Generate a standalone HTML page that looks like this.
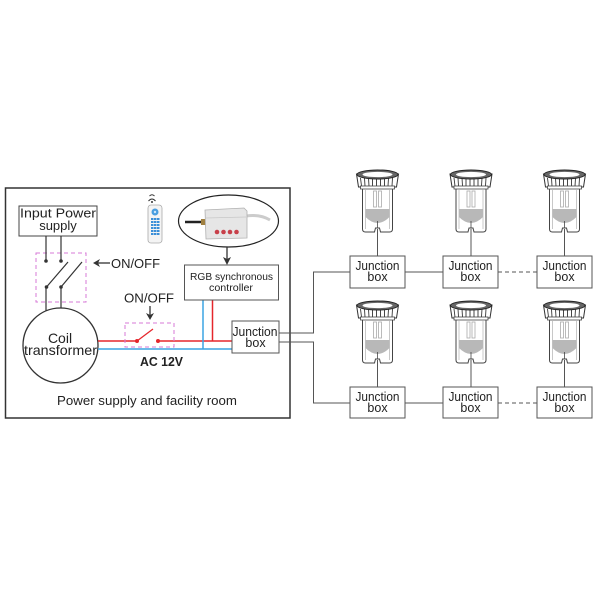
<!DOCTYPE html>
<html><head><meta charset="utf-8"><style>
html,body{margin:0;padding:0;background:#fff;}
svg{display:block;}
text{font-family:"Liberation Sans",sans-serif;fill:#222;}
</style></head><body>
<svg width="600" height="600" viewBox="0 0 600 600" xmlns="http://www.w3.org/2000/svg">
<defs>
  <g id="lamp">
    <path d="M-15,17 L-15,58 Q-15,61 -12,61 L-3,61 L-2,57 L2,57 L3,61 L12,61 Q15,61 15,58 L15,17 Z" fill="#fff" stroke="#444" stroke-width="1"/>
    <line x1="-12" y1="19" x2="-12" y2="58" stroke="#bbb" stroke-width="0.8"/>
    <line x1="12" y1="19" x2="12" y2="58" stroke="#bbb" stroke-width="0.8"/>
    <rect x="-4" y="20" width="3" height="16" fill="none" stroke="#aaa" stroke-width="0.8"/>
    <rect x="1" y="20" width="3" height="16" fill="none" stroke="#aaa" stroke-width="0.8"/>
    <path d="M-12,38 L12,38 L12,46 Q6,52 0,52 Q-6,52 -12,46 Z" fill="#b8b8b8"/>
    <line x1="0" y1="50" x2="0" y2="57" stroke="#444" stroke-width="0.8"/>
    <path d="M-21,3 L21,3 L19,16 L-19,16 Z" fill="#fff" stroke="#333" stroke-width="1"/>
    <g stroke="#333" stroke-width="0.9">
      <line x1="-17" y1="7" x2="-16" y2="15"/><line x1="-13" y1="7" x2="-12.5" y2="15"/>
      <line x1="-9" y1="7" x2="-8.5" y2="15"/><line x1="-5" y1="7" x2="-5" y2="15"/>
      <line x1="-1" y1="7" x2="-1" y2="15"/><line x1="3" y1="7" x2="3" y2="15"/>
      <line x1="7" y1="7" x2="7" y2="15"/><line x1="11" y1="7" x2="10.5" y2="15"/>
      <line x1="15" y1="7" x2="14.5" y2="15"/>
    </g>
    <ellipse cx="0" cy="3.5" rx="20.5" ry="4.5" fill="#666" stroke="#222" stroke-width="1"/>
    <ellipse cx="0" cy="3.5" rx="15" ry="2.6" fill="#fff"/>
    <rect x="-17" y="15" width="34" height="3" fill="#fff" stroke="#444" stroke-width="0.8"/>
  </g>
</defs>

<!-- outer facility box -->
<rect x="5.5" y="188" width="284.5" height="230" fill="none" stroke="#333" stroke-width="1.5"/>

<!-- Input power supply -->
<rect x="19" y="206" width="78" height="30" fill="#fff" stroke="#444" stroke-width="1"/>
<text x="20" y="217.5" font-size="13" textLength="76" lengthAdjust="spacingAndGlyphs">Input Power</text>
<text x="58" y="230" font-size="13" text-anchor="middle">supply</text>

<!-- double switch -->
<rect x="36" y="253" width="50" height="49" fill="none" stroke="#d77ad7" stroke-width="1" stroke-dasharray="4,3"/>
<g stroke="#333" stroke-width="1.2" fill="none">
  <line x1="46" y1="236" x2="46" y2="261"/>
  <line x1="61" y1="236" x2="61" y2="261"/>
  <line x1="46.5" y1="287" x2="68" y2="262"/>
  <line x1="61" y1="287" x2="82" y2="262"/>
  <line x1="46" y1="287" x2="46" y2="311"/>
  <line x1="61" y1="287" x2="61" y2="308"/>
</g>
<g fill="#333"><circle cx="46" cy="261" r="1.8"/><circle cx="61" cy="261" r="1.8"/><circle cx="46.5" cy="287" r="1.8"/><circle cx="61" cy="287" r="1.8"/></g>
<line x1="96" y1="263" x2="110" y2="263" stroke="#333" stroke-width="1.3"/>
<path d="M93,263 L100,259 L98,263 L100,267 Z" fill="#333"/>
<text x="111" y="268" font-size="13" textLength="49" lengthAdjust="spacingAndGlyphs">ON/OFF</text>

<!-- coil -->
<circle cx="60.5" cy="345.5" r="37.5" fill="#fff" stroke="#333" stroke-width="1.3"/>
<text x="60" y="343" font-size="14" text-anchor="middle">Coil</text>
<text x="24" y="355" font-size="14" textLength="73" lengthAdjust="spacingAndGlyphs">transformer</text>

<!-- red/blue lines -->
<line x1="98" y1="341" x2="137" y2="341" stroke="#e5262c" stroke-width="1.5"/>
<line x1="158" y1="341" x2="232" y2="341" stroke="#e5262c" stroke-width="1.5"/>
<line x1="212.5" y1="300" x2="212.5" y2="341" stroke="#e5262c" stroke-width="1.5"/>
<line x1="98" y1="349" x2="232" y2="349" stroke="#3aa4e2" stroke-width="1.5"/>
<line x1="203" y1="300" x2="203" y2="349" stroke="#3aa4e2" stroke-width="1.5"/>
<line x1="137" y1="341" x2="153" y2="329" stroke="#e5262c" stroke-width="1.3"/>
<circle cx="137" cy="341" r="2" fill="#e5262c"/>
<circle cx="158" cy="341" r="2" fill="#e5262c"/>
<rect x="125" y="323" width="49" height="24" fill="none" stroke="#d77ad7" stroke-width="1" stroke-dasharray="4,3"/>

<text x="124" y="302.5" font-size="13" textLength="50" lengthAdjust="spacingAndGlyphs">ON/OFF</text>
<line x1="150" y1="306" x2="150" y2="316" stroke="#333" stroke-width="1.3"/>
<path d="M150,320 L146,313 L150,315 L154,313 Z" fill="#333"/>

<text x="140" y="366" font-size="13" font-weight="bold" textLength="43" lengthAdjust="spacingAndGlyphs">AC 12V</text>
<text x="57" y="405" font-size="12.5" textLength="180" lengthAdjust="spacingAndGlyphs">Power supply and facility room</text>

<!-- remote -->
<g>
  <path d="M148.5,201 Q152,197 155.5,201" fill="none" stroke="#333" stroke-width="1"/>
  <path d="M149.5,199 Q152,196.5 154.5,199" fill="none" stroke="#333" stroke-width="1" transform="translate(0,-3)"/>
  <circle cx="152" cy="202" r="1" fill="#333"/>
  <rect x="148" y="205" width="14" height="38" rx="3" fill="#f4f4f4" stroke="#aaa" stroke-width="0.8"/>
  <circle cx="155" cy="212" r="3.5" fill="#4a9ee0"/>
  <circle cx="155" cy="212" r="1.2" fill="#cde6fa"/>
  <g fill="#3b8fd8">
    <rect x="151" y="218" width="2.5" height="2" /><rect x="154" y="218" width="2.5" height="2"/><rect x="157" y="218" width="2.5" height="2"/>
    <rect x="151" y="221" width="2.5" height="2" /><rect x="154" y="221" width="2.5" height="2"/><rect x="157" y="221" width="2.5" height="2"/>
    <rect x="151" y="224" width="2.5" height="2" /><rect x="154" y="224" width="2.5" height="2"/><rect x="157" y="224" width="2.5" height="2"/>
    <rect x="151" y="227" width="2.5" height="2" /><rect x="154" y="227" width="2.5" height="2"/><rect x="157" y="227" width="2.5" height="2"/>
    <rect x="151" y="230" width="2.5" height="2" /><rect x="154" y="230" width="2.5" height="2"/><rect x="157" y="230" width="2.5" height="2"/>
    <rect x="151" y="233" width="2.5" height="2" /><rect x="154" y="233" width="2.5" height="2"/><rect x="157" y="233" width="2.5" height="2"/>
  </g>
</g>

<!-- ellipse with controller device -->
<ellipse cx="228.5" cy="221" rx="50" ry="26" fill="#fff" stroke="#222" stroke-width="1.2"/>
<path d="M246,216 Q260,214 270,220" fill="none" stroke="#ccc" stroke-width="3"/>
<line x1="185" y1="222" x2="203" y2="222" stroke="#222" stroke-width="2.5"/>
<rect x="201" y="219" width="5" height="6" fill="#a08040"/>
<path d="M205,210 L244,208 L247,211 L247,238 L206,239 Z" fill="#e6e6e6" stroke="#b0b0b0" stroke-width="0.8"/>
<line x1="206" y1="218" x2="246" y2="217" stroke="#c8c8c8" stroke-width="0.8"/>
<g fill="#c8404a"><circle cx="217" cy="232" r="2.3"/><circle cx="223.5" cy="232" r="2.3"/><circle cx="230" cy="232" r="2.3"/><circle cx="236.5" cy="232" r="2.3"/></g>
<line x1="227" y1="247" x2="227" y2="260" stroke="#333" stroke-width="1.3"/>
<path d="M227,265 L223,257 L227,259 L231,257 Z" fill="#333"/>

<!-- RGB controller -->
<rect x="184.5" y="265" width="94" height="35" fill="#fff" stroke="#555" stroke-width="1"/>
<text x="190" y="280" font-size="10" textLength="83" lengthAdjust="spacingAndGlyphs">RGB synchronous</text>
<text x="209" y="291" font-size="10" textLength="44" lengthAdjust="spacingAndGlyphs">controller</text>

<!-- junction box inside -->
<rect x="232" y="321" width="47" height="32" fill="#fff" stroke="#555" stroke-width="1"/>
<text x="232.5" y="336" font-size="12.5" textLength="45" lengthAdjust="spacingAndGlyphs">Junction</text>
<text x="255.5" y="347" font-size="12.5" text-anchor="middle">box</text>

<!-- trunk lines -->
<g stroke="#555" stroke-width="1" fill="none">
  <polyline points="279,333 313.5,333 313.5,272 350,272"/>
  <polyline points="279,342 313.5,342 313.5,403 350,403"/>
  <line x1="405" y1="272" x2="443" y2="272"/>
  <line x1="405" y1="403" x2="443" y2="403"/>
  <line x1="498" y1="272" x2="537" y2="272" stroke-dasharray="4,3"/>
  <line x1="498" y1="403" x2="537" y2="403" stroke-dasharray="4,3"/>
  <line x1="377.5" y1="229" x2="377.5" y2="256"/>
  <line x1="471" y1="229" x2="471" y2="256"/>
  <line x1="564.5" y1="229" x2="564.5" y2="256"/>
  <line x1="377.5" y1="360" x2="377.5" y2="387"/>
  <line x1="471" y1="360" x2="471" y2="387"/>
  <line x1="564.5" y1="360" x2="564.5" y2="387"/>
</g>

<!-- lamps -->
<use href="#lamp" x="377.5" y="171"/>
<use href="#lamp" x="471" y="171"/>
<use href="#lamp" x="564.5" y="171"/>
<use href="#lamp" x="377.5" y="302"/>
<use href="#lamp" x="471" y="302"/>
<use href="#lamp" x="564.5" y="302"/>

<!-- junction boxes right -->
<g fill="#fff" stroke="#555" stroke-width="1">
  <rect x="350" y="256" width="55" height="32"/>
  <rect x="443" y="256" width="55" height="32"/>
  <rect x="537" y="256" width="55" height="32"/>
  <rect x="350" y="387" width="55" height="31"/>
  <rect x="443" y="387" width="55" height="31"/>
  <rect x="537" y="387" width="55" height="31"/>
</g>
<g font-size="12.5" text-anchor="middle">
  <text x="377.5" y="270" textLength="44" lengthAdjust="spacingAndGlyphs">Junction</text>
  <text x="377.5" y="281">box</text>
  <text x="470.5" y="270" textLength="44" lengthAdjust="spacingAndGlyphs">Junction</text>
  <text x="470.5" y="281">box</text>
  <text x="564.5" y="270" textLength="44" lengthAdjust="spacingAndGlyphs">Junction</text>
  <text x="564.5" y="281">box</text>
  <text x="377.5" y="401" textLength="44" lengthAdjust="spacingAndGlyphs">Junction</text>
  <text x="377.5" y="412">box</text>
  <text x="470.5" y="401" textLength="44" lengthAdjust="spacingAndGlyphs">Junction</text>
  <text x="470.5" y="412">box</text>
  <text x="564.5" y="401" textLength="44" lengthAdjust="spacingAndGlyphs">Junction</text>
  <text x="564.5" y="412">box</text>
</g>
</svg>
</body></html>
